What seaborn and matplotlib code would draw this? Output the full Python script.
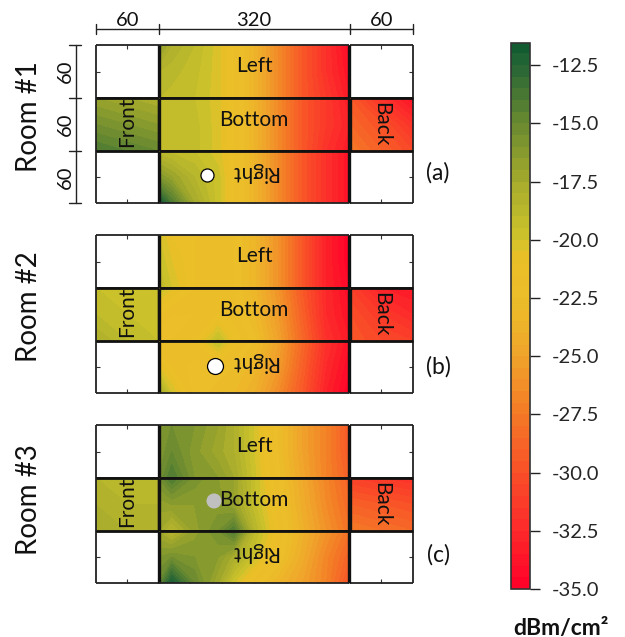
#!/usr/bin/env python3
"""Signal maps of three rooms, unfolded walls, with a shared colour bar."""

import matplotlib
matplotlib.use("Agg")
import matplotlib.pyplot as plt
import numpy as np
import seaborn as sns

FIG_W, FIG_H = 625, 637

# positions where the walls were sampled
long_x = [0, 22, 60, 100, 126, 160, 200, 240, 280, 320]
short_x = [0, 30, 60]
wall_y = [0, 30, 60]

# rows run from the top of each panel to the bottom of it
room1_left = [
    [-16.5, -18, -19, -20.3, -21.5, -23.5, -26.5, -29.5, -32, -34.5],
    [-18.5, -18.8, -19.3, -20.3, -21.5, -23.5, -26.5, -29.5, -32, -34],
    [-19, -19.2, -19.5, -20.3, -21.5, -23.5, -26.5, -29.5, -31.5, -33.5],
]
room1_bottom = [
    [-19.3, -19.3, -19.5, -20.3, -21.5, -23.5, -26.5, -29.5, -31.5, -33.5],
    [-19, -19, -19.3, -20.3, -21.5, -23.5, -26.5, -29.5, -31.5, -33],
    [-19, -19, -19.3, -20.3, -21.5, -23.5, -26.5, -29.5, -32, -33.5],
]
room1_right = [
    [-19, -19.2, -19.5, -20.3, -21.5, -23.5, -26.5, -29.5, -32, -34],
    [-16, -17, -18.5, -19.8, -21.5, -23.5, -26.5, -29.5, -32, -34],
    [-11.5, -14, -17.5, -19.8, -21.5, -23.5, -26.5, -29.5, -32, -34],
]
room1_front = [[-17, -17.5, -18], [-15.5, -16, -16.5], [-14, -14.5, -15]]
room1_back = [[-29.5, -32, -34], [-28.5, -30, -32], [-27.5, -29, -30.5]]

room2_left = [
    [-20, -21, -21.5, -21.8, -22, -23.3, -26, -29.5, -33, -35],
    [-19.5, -20.5, -21.5, -21.8, -22, -23.3, -26, -29.5, -33, -35],
    [-19, -20, -21.5, -21.8, -22, -23.3, -26, -29.5, -33, -34.5],
]
room2_bottom = [
    [-19.5, -20.5, -21.5, -21.8, -22, -23.3, -26, -29.5, -32.5, -34.5],
    [-21.5, -22, -22, -21.5, -21.8, -23, -25.5, -29, -32.5, -34],
    [-22.5, -22, -21.5, -19.3, -21, -22.3, -25, -28.5, -32, -33.5],
]
room2_right = [
    [-22.5, -22, -21.5, -19.3, -21, -22.5, -25, -28.5, -32, -34],
    [-20.5, -21.5, -22.3, -22.3, -22.5, -23.3, -25.5, -29, -32.5, -34.5],
    [-17.5, -20, -22.3, -22.7, -23, -24, -26.5, -29.5, -33, -35],
]
room2_front = [[-19.5, -20, -19.5], [-19, -19.5, -19.5], [-18, -19, -19.5]]
room2_back = [[-31, -33, -33.5], [-30, -31.5, -32.5], [-29.5, -30.5, -31]]

room3_left = [
    [-16, -15.5, -16, -17, -18, -20, -22.5, -25, -27, -29.5],
    [-16, -15, -16.3, -17.3, -18, -20, -22.5, -25, -27, -29.5],
    [-15.5, -14, -16, -16.5, -17.5, -19.8, -22.3, -24.7, -27, -29],
]
room3_bottom = [
    [-15.5, -14, -15.7, -16.5, -17, -19.5, -22, -24.5, -26.8, -29],
    [-16.8, -16.5, -16.5, -16.3, -17, -19.3, -21.8, -24.2, -26.5, -28.5],
    [-17.5, -18.8, -16.8, -15.5, -14, -18.5, -21.5, -23.8, -26, -28],
]
room3_right = [
    [-17.5, -18.8, -16.8, -15.5, -14, -19, -21.5, -23.8, -26, -28],
    [-16, -15.5, -16, -16.5, -17.8, -19.8, -22, -24.3, -26.8, -29],
    [-15, -12, -15, -17.5, -20, -22, -23.5, -25, -27, -30],
]
room3_front = [[-18.5, -19, -18.5], [-18, -18.5, -18.5], [-17.5, -18, -18]]
room3_back = [[-31, -31.5, -32], [-29, -29.5, -30], [-27.5, -28, -28.5]]

room_names = ["Room #1", "Room #2", "Room #3"]
room_tags = ["(a)", "(b)", "(c)"]
marker_wall = ["right", "right", "bottom"]
marker_x = [82, 94, 93]
marker_y = [28, 28.5, 26]
marker_colors = ["white", "white", "#c0c0c0"]
span_labels = ["60", "320", "60"]
cbar_ticks = [-12.5, -15.0, -17.5, -20.0, -22.5, -25.0, -27.5, -30.0, -32.5, -35.0]
cbar_unit = "dBm/cm²"

# colour bar stops: value, colour
stop_values = [-35, -32.5, -30, -27.5, -25, -22.5, -20.6, -20, -17.5, -15, -12.5, -11.5]
stop_colors = ["#ff0028", "#fc2a2a", "#f95028", "#f47a26", "#f0a42a", "#ecbe29",
               "#e9bf28", "#d0c42b", "#a5ab2c", "#6b8a30", "#256535", "#0f5a30"]

rooms = [
    dict(left=room1_left, bottom=room1_bottom, right=room1_right, front=room1_front, back=room1_back),
    dict(left=room2_left, bottom=room2_bottom, right=room2_right, front=room2_front, back=room2_back),
    dict(left=room3_left, bottom=room3_bottom, right=room3_right, front=room3_front, back=room3_back),
]

sns.set_theme(style="ticks")
plt.rcParams["font.family"] = ["Lato", "DejaVu Sans"]
plt.rcParams["axes.unicode_minus"] = False
plt.rcParams["text.color"] = "#111111"

VMIN, VMAX = stop_values[0], stop_values[-1]
positions = [(v - VMIN) / (VMAX - VMIN) for v in stop_values]
cmap = sns.blend_palette(stop_colors, as_cmap=True)
cmap = cmap.from_list("signal", list(zip(positions, stop_colors)))
levels = np.arange(-35, -11.4, 0.5)

fig = plt.figure(figsize=(FIG_W / 100, FIG_H / 100), dpi=100, facecolor="white")


def px_axes(x0, y0, x1, y1):
    """Axes from pixel edges, y measured from the top of the image."""
    return fig.add_axes([x0 / FIG_W, 1 - y1 / FIG_H, (x1 - x0) / FIG_W, (y1 - y0) / FIG_H])


overlay = px_axes(0, 0, FIG_W, FIG_H)
overlay.set_xlim(0, FIG_W)
overlay.set_ylim(FIG_H, 0)
overlay.axis("off")
overlay.set_zorder(5)

col_edges = [96, 158.5, 349.5, 413]
row_offsets = [0, 53, 106, 158]
room_tops = [45, 235, 425]
label_y = {"Left": 24, "Bottom": 25, "Right": 24, "Front": 27, "Back": 30}
last_cs = None


def style_panel(ax, xs, sides):
    ax.set_xlim(xs[0], xs[-1])
    ax.set_ylim(60, 0)
    ax.set_xticks([])
    ax.set_yticks([])
    ax.grid(False)
    for s in ax.spines.values():
        s.set_linewidth(1.3)
        s.set_color("#222222")
        s.set_capstyle("butt")
    if "top" in sides or "bottom" in sides:
        n = 6 if xs[-1] > 100 else 2
        ax.set_xticks(np.linspace(xs[0], xs[-1], n + 1)[1:-1])
    if "left" in sides or "right" in sides:
        ax.set_yticks([30])
    ax.tick_params(axis="both", direction="in", length=3, width=0.8, color="#333333",
                   labelbottom=False, labelleft=False,
                   top="top" in sides, bottom="bottom" in sides,
                   left="left" in sides, right="right" in sides)


def thicken(ax, side, width):
    ax.spines[side].set_linewidth(width)
    ax.spines[side].set_color("#111111")


for i, room in enumerate(rooms):
    top = room_tops[i]
    rows = [top + r for r in row_offsets]

    # white corners first, only ticks and a frame
    style_panel(px_axes(col_edges[0], rows[0], col_edges[1], rows[1]), short_x, ["top", "left"])
    style_panel(px_axes(col_edges[2], rows[0], col_edges[3], rows[1]), short_x, ["top", "right"])
    style_panel(px_axes(col_edges[0], rows[2], col_edges[1], rows[3]), short_x, ["bottom", "left"])
    style_panel(px_axes(col_edges[2], rows[2], col_edges[3], rows[3]), short_x, ["bottom", "right"])

    panels = [
        ("left", long_x, 1, 0, ["top"], "Left", 0),
        ("front", short_x, 0, 1, ["left"], "Front", 90),
        ("bottom", long_x, 1, 1, [], "Bottom", 0),
        ("back", short_x, 2, 1, ["right"], "Back", 270),
        ("right", long_x, 1, 2, ["bottom"], "Right", 180),
    ]
    for key, xs, col, row, sides, label, rot in panels:
        ax = px_axes(col_edges[col], rows[row], col_edges[col + 1], rows[row + 1])
        last_cs = ax.contourf(xs, wall_y, np.array(room[key]), levels=levels, cmap=cmap,
                              vmin=VMIN, vmax=VMAX)
        style_panel(ax, xs, sides)
        # thick lines between panels, thin ones along the outside
        if col == 1:
            thicken(ax, "left", 2.4)
            thicken(ax, "right", 2.4)
            if row != 2:
                thicken(ax, "bottom", 2.0)
            if row != 0:
                thicken(ax, "top", 2.0)
        else:
            thicken(ax, {0: "right", 2: "left"}[col], 2.4)
            thicken(ax, "top", 2.0)
            thicken(ax, "bottom", 2.0)
        ax.set_zorder(2)
        ax.text(xs[-1] * 0.5, label_y[label], label, rotation=rot, ha="center", va="center",
                fontsize=15, rotation_mode="anchor", zorder=6)
        if key == marker_wall[i]:
            ax.scatter(marker_x[i], marker_y[i], s=[88, 132, 117][i], color=marker_colors[i],
                       edgecolor="black" if i < 2 else "none", linewidth=0.9, zorder=5, clip_on=False)

    overlay.text(29, top + 72 + (i == 2) * 3, room_names[i], rotation=90, ha="center", va="center", fontsize=20)
    overlay.text(438, top + 128 + (i == 1) * 4 + (i == 2) * 2, room_tags[i], ha="center", va="center", fontsize=16.5)

# dimension brackets over and beside the first room
overlay.plot([col_edges[0] + 1, col_edges[3]], [29, 29], color="#222222", lw=1.0)
for xc in col_edges:
    overlay.plot([xc, xc], [24, 34], color="#222222", lw=1.0)
for j, lab in enumerate(span_labels):
    overlay.text((col_edges[j] + col_edges[j + 1]) / 2, 20, lab, ha="center", va="center", fontsize=14.5)
overlay.plot([75.5, 75.5], [45, 203], color="#222222", lw=1.0)
for off in row_offsets:
    overlay.plot([69, 81], [45 + off, 45 + off], color="#222222", lw=1.0)
for j in range(3):
    overlay.text(65, 45 + (row_offsets[j] + row_offsets[j + 1]) / 2, span_labels[0], rotation=90,
                 ha="center", va="center", fontsize=14.5)

# colour bar
cax = px_axes(511, 43, 530, 589)
cbar = fig.colorbar(last_cs, cax=cax, ticks=cbar_ticks)
cbar.ax.set_ylim(-35, -11.55)
cbar.ax.set_yticklabels([f"{t:.1f}" for t in cbar_ticks])
cbar.ax.tick_params(length=7, width=1.0, color="#222222", labelsize=14.5, pad=9)
cbar.outline.set_linewidth(1.2)
cbar.outline.set_edgecolor("#333333")
overlay.text(561, 628, cbar_unit, ha="center", va="center", fontsize=16.5, fontweight="bold")

fig.savefig("out.png", dpi=100, facecolor="white")
